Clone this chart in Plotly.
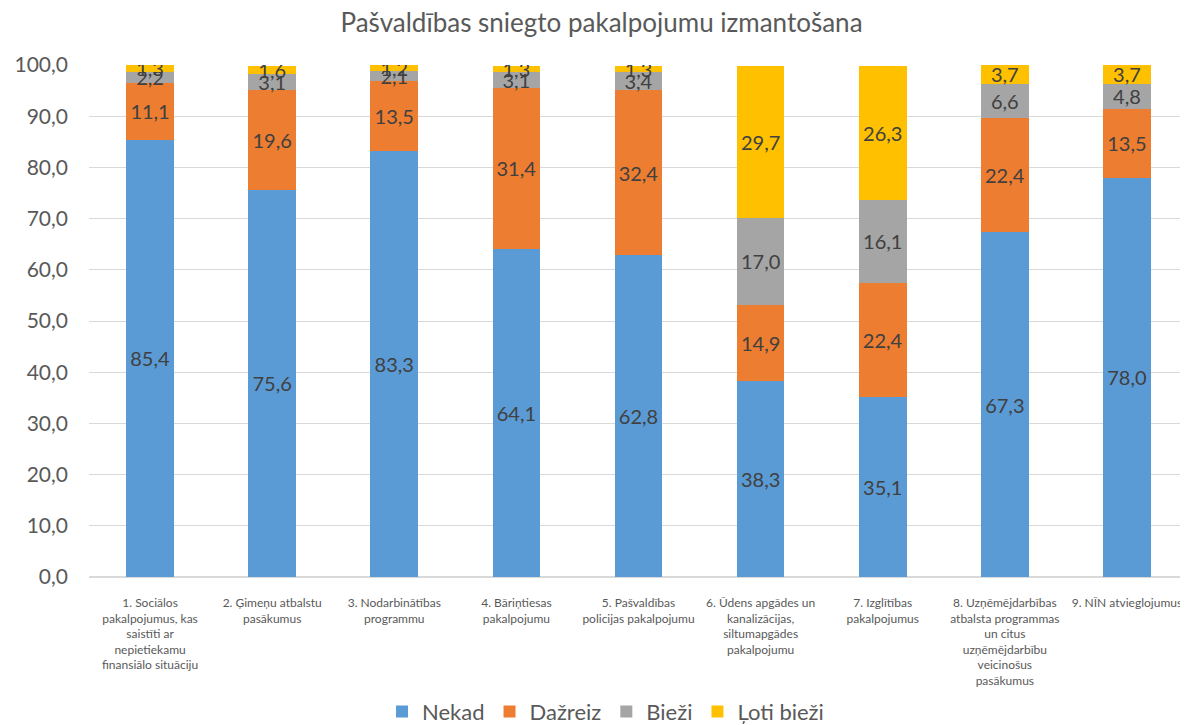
import plotly.graph_objects as go

categories = [
    "1. Sociālos<br>pakalpojumus, kas<br>saistīti ar<br>nepietiekamu<br>finansiālo situāciju",
    "2. Ģimeņu atbalstu<br>pasākumus",
    "3. Nodarbinātības<br>programmu",
    "4. Bāriņtiesas<br>pakalpojumu",
    "5. Pašvaldības<br>policijas pakalpojumu",
    "6. Ūdens apgādes un<br>kanalizācijas,<br>siltumapgādes<br>pakalpojumu",
    "7. Izglītības<br>pakalpojumus",
    "8. Uzņēmējdarbības<br>atbalsta programmas<br>un citus<br>uzņēmējdarbību<br>veicinošus<br>pasākumus",
    "9. NĪN atvieglojumus",
]
nekad = [85.4, 75.6, 83.3, 64.1, 62.8, 38.3, 35.1, 67.3, 78.0]
dazreiz = [11.1, 19.6, 13.5, 31.4, 32.4, 14.9, 22.4, 22.4, 13.5]
biezi = [2.2, 3.1, 2.1, 3.1, 3.4, 17.0, 16.1, 6.6, 4.8]
loti_biezi = [1.3, 1.6, 1.2, 1.3, 1.3, 29.7, 26.3, 3.7, 3.7]
y_ticks = [0, 10, 20, 30, 40, 50, 60, 70, 80, 90, 100]

series = [
    ("Nekad", nekad, "#5B9BD5"),
    ("Dažreiz", dazreiz, "#ED7D31"),
    ("Bieži", biezi, "#A5A5A5"),
    ("Ļoti bieži", loti_biezi, "#FFC000"),
]

fig = go.Figure()
for name, vals, color in series:
    fig.add_trace(go.Bar(
        name=name, x=list(range(len(categories))), y=vals,
        marker=dict(color=color, line=dict(width=0)),
        texttemplate="%{y:.1f}", textposition="inside",
        insidetextanchor="middle", textangle=0, constraintext="none",
        textfont=dict(family="Lato, sans-serif", size=20, color="#404040"),
        width=0.39,
    ))

# page body has an 8px margin, so the figure is sized to fill the rest of the window
fig.update_layout(
    barmode="stack",
    separators=", ",
    width=1180, height=717,
    paper_bgcolor="white", plot_bgcolor="white",
    margin=dict(l=81, r=0, t=57, b=148, autoexpand=False),
    title=dict(text="Pašvaldības sniegto pakalpojumu izmantošana",
               x=0.503, xanchor="center", xref="container",
               y=0.979, yanchor="middle", yref="container",
               font=dict(family="Lato, sans-serif", size=26, color="#595959")),
    font=dict(family="Lato, sans-serif", color="#595959"),
    xaxis=dict(tickmode="array", tickvals=list(range(len(categories))), ticktext=categories,
               tickangle=0, tickfont=dict(size=12, color="#595959"),
               showgrid=False, showline=False, zeroline=False, automargin=False,
               range=[-0.5, len(categories) - 0.5], ticks="", ticklabelstandoff=17),
    yaxis=dict(range=[0, 100], tickvals=y_ticks, tickformat=".1f",
               tickfont=dict(size=21, color="#595959"), automargin=False,
               gridcolor="#D9D9D9", gridwidth=1, zeroline=True, zerolinecolor="#D9D9D9",
               showline=False, ticks="", ticklabelstandoff=20),
    legend=dict(orientation="h", x=0.47, xanchor="center", y=-0.222, yanchor="top",
                font=dict(size=22, color="#595959"), traceorder="normal",
                itemwidth=30),
    uniformtext=dict(mode=False),
)

fig.write_html("out.html")
